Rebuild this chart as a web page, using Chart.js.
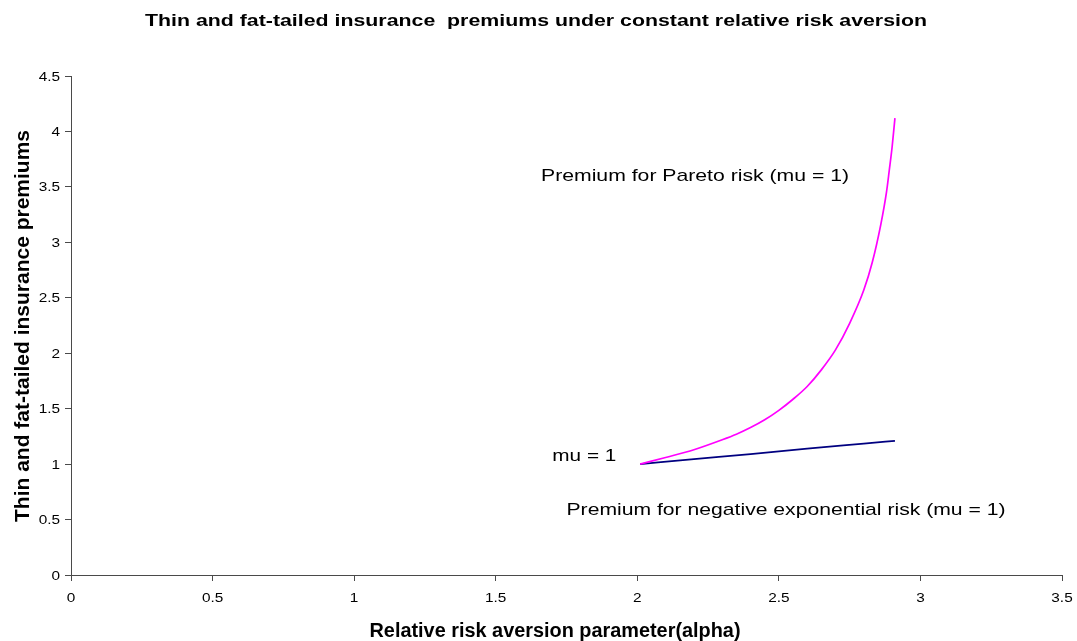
<!DOCTYPE html>
<html>
<head>
<meta charset="utf-8">
<title>Insurance premiums under CRRA</title>
<script src="https://cdn.jsdelivr.net/npm/chart.js@4"></script>
<style>
  html, body { margin: 0; padding: 0; background: #fff; }
  #wrap { width: 1077px; height: 641px; position: relative; }
</style>
</head>
<body>
<div id="wrap"><canvas id="c" width="1077" height="641"></canvas></div>
<script>
// Relative risk aversion parameter (alpha) and the premiums for each risk
const paretoAlpha = [2.01, 2.1, 2.2, 2.3, 2.35, 2.4, 2.45, 2.5, 2.55, 2.6, 2.65, 2.7, 2.75, 2.8, 2.83, 2.86, 2.88, 2.89, 2.9, 2.91];
const paretoPremium = [1.00, 1.06, 1.13, 1.22, 1.27, 1.33, 1.40, 1.485, 1.585, 1.70, 1.85, 2.03, 2.27, 2.57, 2.82, 3.16, 3.45, 3.65, 3.86, 4.12];
const expAlpha = [2.01, 2.2, 2.4, 2.6, 2.8, 2.91];
const expPremium = [1.00, 1.045, 1.09, 1.14, 1.185, 1.21];

const titleText = 'Thin and fat-tailed insurance  premiums under constant relative risk aversion';
const xTitle = 'Relative risk aversion parameter(alpha)';
const yTitle = 'Thin and fat-tailed insurance premiums';

// Text annotations: left edge and baseline in data coordinates, drawn width in px
const notes = [
  { text: 'Premium for Pareto risk (mu = 1)', x: 1.66, y: 3.55, w: 308 },
  { text: 'mu = 1', x: 1.70, y: 1.03, w: 64 },
  { text: 'Premium for negative exponential risk (mu = 1)', x: 1.75, y: 0.54, w: 439 }
];

const FONT = '"Liberation Sans", Arial, sans-serif';
const AXIS = '#4a4a4a';
const TICK_FONT = '12px ' + FONT;
const TICK_STRETCH = 1.28;

function toPoints(xs, ys) { return xs.map((x, i) => ({ x: x, y: ys[i] })); }

function fmt(v) { return String(Math.round(v * 100) / 100); }

// Draws text with a horizontal stretch; align is relative to the stretched box
function drawStretched(ctx, text, x, y, font, align, sx) {
  ctx.save();
  ctx.font = font;
  ctx.textAlign = 'left';
  ctx.textBaseline = 'alphabetic';
  const w = ctx.measureText(text).width * sx;
  let left = x;
  if (align === 'center') left = x - w / 2;
  else if (align === 'right') left = x - w;
  ctx.translate(left, y);
  ctx.scale(sx, 1);
  ctx.fillText(text, 0, 0);
  ctx.restore();
}

function widthScale(ctx, text, font, target) {
  ctx.save();
  ctx.font = font;
  const w = ctx.measureText(text).width;
  ctx.restore();
  return target / w;
}

const textPlugin = {
  id: 'texts',
  afterDraw(chart) {
    const ctx = chart.ctx;
    const xs = chart.scales.x, ys = chart.scales.y;
    ctx.save();
    ctx.fillStyle = '#000';

    // tick labels
    xs.ticks.forEach(t => {
      drawStretched(ctx, fmt(t.value), xs.getPixelForValue(t.value), 602, TICK_FONT, 'center', TICK_STRETCH);
    });
    ys.ticks.forEach(t => {
      drawStretched(ctx, fmt(t.value), 60, ys.getPixelForValue(t.value) + 4.5, TICK_FONT, 'right', TICK_STRETCH);
    });

    // chart title
    const tf = 'bold 17px ' + FONT;
    drawStretched(ctx, titleText, 536, 26, tf, 'center', widthScale(ctx, titleText, tf, 782));

    // x axis title
    const xf = 'bold 20px ' + FONT;
    drawStretched(ctx, xTitle, 555, 637, xf, 'center', widthScale(ctx, xTitle, xf, 371));

    // y axis title, rotated
    const yf = 'bold 20px ' + FONT;
    ctx.save();
    ctx.translate(29, 326);
    ctx.rotate(-Math.PI / 2);
    drawStretched(ctx, yTitle, 0, 0, yf, 'center', widthScale(ctx, yTitle, yf, 392));
    ctx.restore();

    // annotations
    const nf = '17px ' + FONT;
    notes.forEach(n => {
      drawStretched(ctx, n.text, xs.getPixelForValue(n.x), ys.getPixelForValue(n.y), nf, 'left',
        widthScale(ctx, n.text, nf, n.w));
    });
    ctx.restore();
  }
};

new Chart(document.getElementById('c'), {
  type: 'scatter',
  data: {
    datasets: [
      {
        label: 'Pareto',
        data: toPoints(paretoAlpha, paretoPremium),
        showLine: true,
        borderColor: '#FF00FF',
        borderWidth: 1.7,
        pointRadius: 0,
        cubicInterpolationMode: 'monotone',
        fill: false
      },
      {
        label: 'Negative exponential',
        data: toPoints(expAlpha, expPremium),
        showLine: true,
        borderColor: '#000080',
        borderWidth: 1.7,
        pointRadius: 0,
        cubicInterpolationMode: 'monotone',
        fill: false
      }
    ]
  },
  options: {
    responsive: false,
    animation: false,
    devicePixelRatio: 1,
    layout: { padding: { top: 76, right: 15, left: 0, bottom: 0 } },
    plugins: {
      legend: { display: false },
      tooltip: { enabled: false },
      title: { display: false }
    },
    scales: {
      x: {
        type: 'linear',
        min: 0, max: 3.5,
        ticks: { stepSize: 0.5, display: false },
        grid: { drawOnChartArea: false, drawTicks: true, tickLength: 6, color: AXIS },
        border: { display: true, color: AXIS, width: 1 },
        afterFit(scale) { scale.height = 66; }
      },
      y: {
        type: 'linear',
        min: 0, max: 4.5,
        ticks: { stepSize: 0.5, display: false },
        grid: { drawOnChartArea: false, drawTicks: true, tickLength: 6, color: AXIS },
        border: { display: true, color: AXIS, width: 1 },
        afterFit(scale) { scale.width = 71; }
      }
    }
  },
  plugins: [textPlugin]
});
</script>
</body>
</html>
